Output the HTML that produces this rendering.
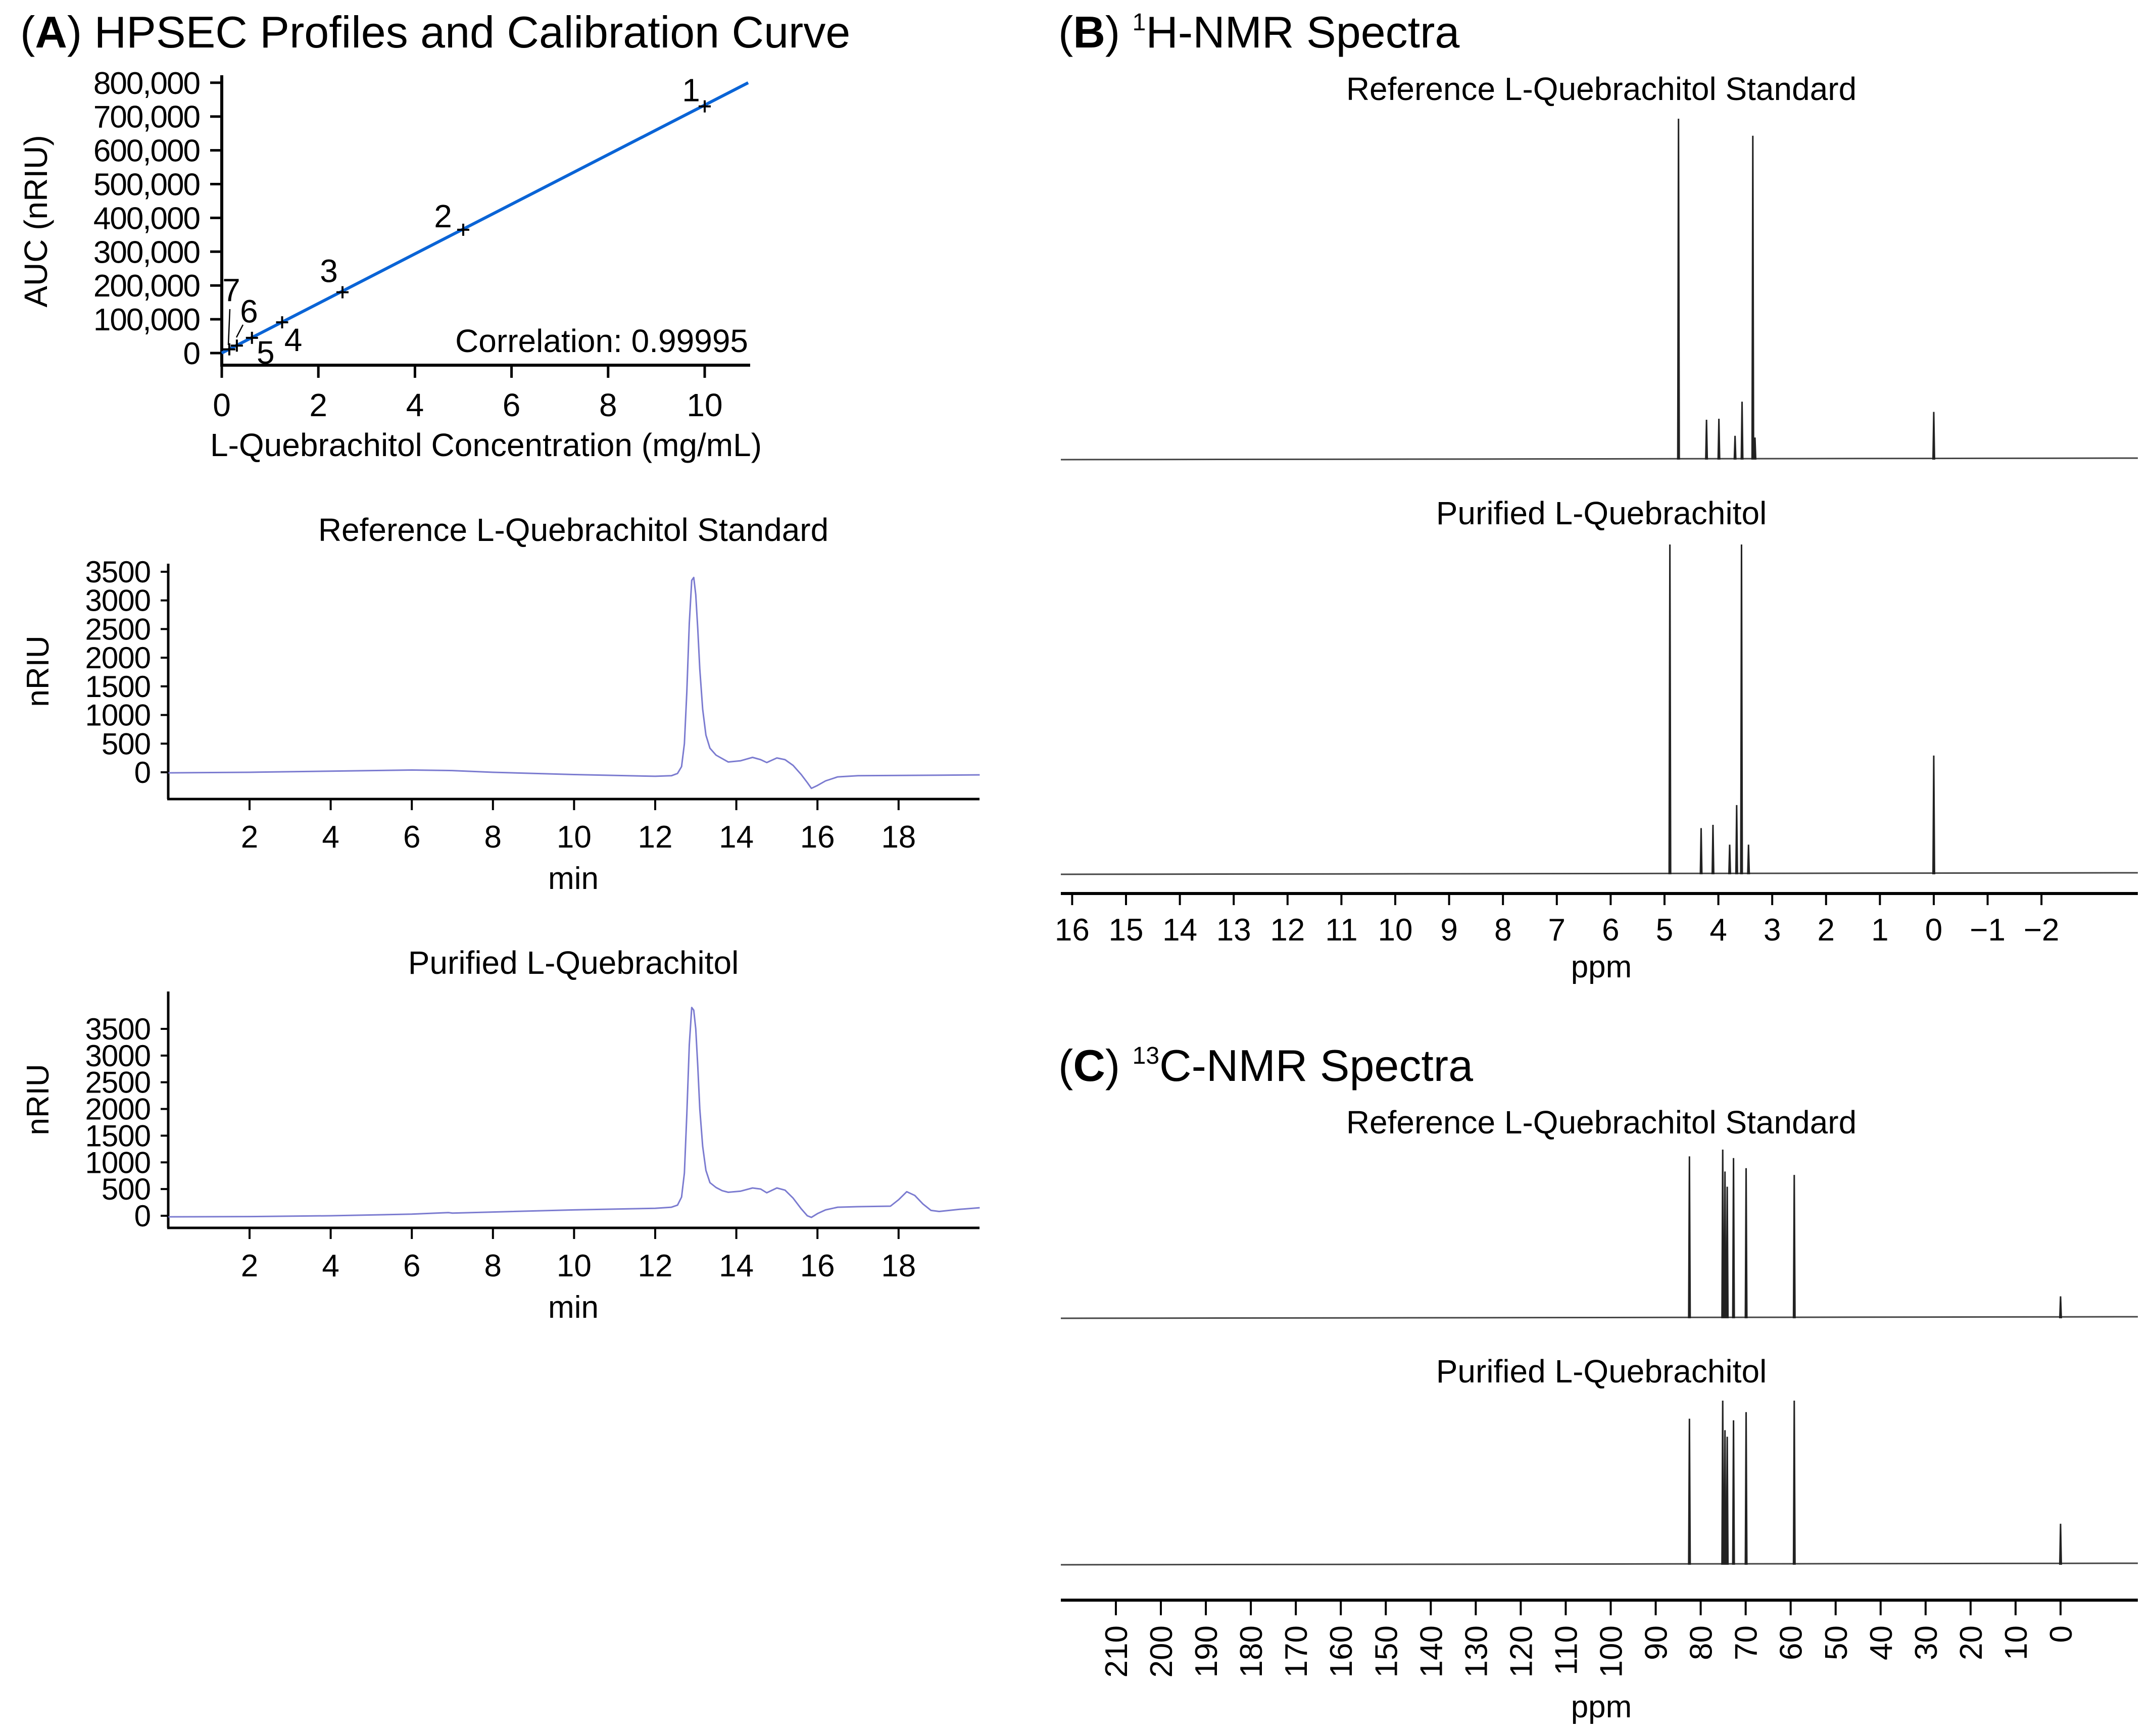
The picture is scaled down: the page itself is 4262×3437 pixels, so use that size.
<!DOCTYPE html>
<html><head><meta charset="utf-8"><style>
html,body{margin:0;padding:0;background:#fff;}
svg{display:block;font-family:"Liberation Sans",sans-serif;}
</style></head><body>
<svg id="fig" width="4262" height="3437" viewBox="0 0 4262 3437" xmlns="http://www.w3.org/2000/svg">
<rect width="4262" height="3437" fill="#fff"/>
<text x="40" y="94" font-size="88">(<tspan font-weight="bold">A</tspan>) HPSEC Profiles and Calibration Curve</text>
<text x="2095" y="94" font-size="88">(<tspan font-weight="bold">B</tspan>) <tspan font-size="48" dy="-34">1</tspan><tspan dy="34">H-NMR Spectra</tspan></text>
<text x="2095" y="2140" font-size="88">(<tspan font-weight="bold">C</tspan>) <tspan font-size="48" dy="-34">13</tspan><tspan dy="34">C-NMR Spectra</tspan></text>
<g id="cal"></g>
<g id="chromRef"></g>
<g id="chromPur"></g>
<g id="hnmr"></g>
<g id="cnmr"></g>
</svg>
<script>
// ---- Calibration data ----
const calConc = [10, 5, 2.5, 1.25, 0.625, 0.3125, 0.156];
const calAUC = [730000, 365000, 180000, 91000, 45000, 22000, 11000];
const calLabels = ["1","2","3","4","5","6","7"];
const calYTicks = [0,100000,200000,300000,400000,500000,600000,700000,800000];
const calXTicks = [0,2,4,6,8,10];
const calFit = [0, 10.9];
const calFitY = [0, 800000];
// ---- Chromatogram data ----
const chromXTicks = [2,4,6,8,10,12,14,16,18];
const refYTicks = [0,500,1000,1500,2000,2500,3000,3500];
const purYTicks = [0,500,1000,1500,2000,2500,3000,3500];
const refT = [0,2,4,6,7,8,10,12,12.4,12.55,12.65,12.72,12.78,12.84,12.9,12.95,13.0,13.05,13.1,13.17,13.25,13.35,13.5,13.65,13.8,14.1,14.4,14.6,14.75,15.0,15.2,15.4,15.6,15.75,15.85,16.0,16.2,16.5,17,18,19,20];
const refV = [-10,0,20,40,30,0,-40,-70,-60,-20,100,500,1400,2600,3350,3400,3100,2500,1800,1100,650,420,300,240,180,200,260,220,170,250,220,120,-40,-180,-280,-230,-150,-80,-60,-55,-50,-45];
const purT = [0,2,4,6,6.9,7,8,10,12,12.4,12.55,12.65,12.72,12.78,12.84,12.9,12.95,13.0,13.05,13.1,13.17,13.25,13.35,13.5,13.65,13.8,14.1,14.4,14.6,14.75,15.0,15.2,15.4,15.6,15.75,15.85,16.0,16.2,16.5,17,17.8,18.0,18.2,18.4,18.6,18.8,19,19.5,20];
const purV = [-20,-15,0,30,60,50,70,110,140,160,200,350,800,1900,3200,3900,3850,3500,2800,2000,1300,850,620,530,470,440,460,520,500,430,520,480,330,130,0,-30,40,110,160,170,180,300,450,380,220,100,80,120,150];
// ---- NMR data ----
const hTicks = [16,15,14,13,12,11,10,9,8,7,6,5,4,3,2,1,0,-1,-2];
const hRefPpm = [4.74,4.22,3.99,3.69,3.56,3.36,3.32,0];
const hRefH = [1.0,0.117,0.12,0.07,0.17,0.95,0.065,0.14];
const hPurPpm = [4.9,4.32,4.1,3.79,3.66,3.57,3.44,0];
const hPurH = [1.0,0.14,0.15,0.09,0.21,1.0,0.09,0.36];
const cTicks = [210,200,190,180,170,160,150,140,130,120,110,100,90,80,70,60,50,40,30,20,10,0];
const cRefPpm = [82.5,75.1,74.6,74.1,72.7,69.9,59.2,0];
const cRefH = [0.96,1.0,0.87,0.78,0.95,0.89,0.85,0.13];
const cPurPpm = [82.5,75.1,74.6,74.1,72.7,69.9,59.2,0];
const cPurH = [0.89,1.0,0.82,0.78,0.88,0.93,1.0,0.25];

const NS="http://www.w3.org/2000/svg";
function mk(parent,tag,attrs,txt){const e=document.createElementNS(NS,tag);for(const k in attrs)e.setAttribute(k,attrs[k]);if(txt!==undefined)e.textContent=txt;parent.appendChild(e);return e;}

// ---- Calibration ----
(function(){
 const g=document.getElementById('cal');
 const x=v=>439+v*95.6, y=v=>699-v/100000*66.9;
 let e=mk(g,'line',{x1:439,y1:149,x2:439,y2:723,stroke:'#000','stroke-width':6});
 
 e=mk(g,'line',{x1:436,y1:723,x2:1485,y2:723,stroke:'#000','stroke-width':6});
 
 calYTicks.forEach(v=>{
  let t=mk(g,'line',{x1:416,y1:y(v),x2:439,y2:y(v),stroke:'#000','stroke-width':5});
  
  let l=mk(g,'text',{x:395,y:y(v)+22,'font-size':62,'text-anchor':'end','letter-spacing':-2},v.toLocaleString('en-US'));
  
 });
 calXTicks.forEach(v=>{
  let t=mk(g,'line',{x1:x(v),y1:723,x2:x(v),y2:748,stroke:'#000','stroke-width':5});
  
  let l=mk(g,'text',{x:x(v),y:824,'font-size':64,'text-anchor':'middle'},String(v));
  
 });
 let f=mk(g,'line',{x1:x(calFit[0]),y1:y(calFitY[0]),x2:x(calFit[1]),y2:y(calFitY[1]),stroke:'#0a64d6','stroke-width':6});
 
 const off=[[-27,-10],[-40,-5],[-27,-20],[22,57],[27,51],[24,-46],[4,-95]];
 calConc.forEach((c,i)=>{
  const px=x(c),py=y(calAUC[i]);
  let p=mk(g,'path',{d:`M${px-12},${py}H${px+12}M${px},${py-12}V${py+12}`,stroke:'#000','stroke-width':4});
  
  let l=mk(g,'text',{x:px+off[i][0],y:py+off[i][1],'font-size':64,'text-anchor':'middle'},calLabels[i]);
  
 });
 let ld=mk(g,'path',{d:'M455,612L452,683M481,643L468,668',stroke:'#000','stroke-width':2.5,fill:'none'});
 
 let c=mk(g,'text',{x:1481,y:697,'font-size':64,'text-anchor':'end'},'Correlation: 0.99995');
 
 let yt=mk(g,'text',{x:0,y:0,'font-size':64,'text-anchor':'middle',transform:'translate(93,438) rotate(-90)'},'AUC (nRIU)');
 
 let xt=mk(g,'text',{x:962,y:903,'font-size':64,'text-anchor':'middle'},'L-Quebrachitol Concentration (mg/mL)');
 
})();

// ---- Chromatograms ----
function chrom(id,T,V,yt,top,axisY,y0,y3500,title,titleY){
 const g=document.getElementById(id);
 const x=v=>333.4+v*80.3, y=v=>y0-(v/3500)*(y0-y3500);
 let t=mk(g,'text',{x:1135,y:titleY+23,'font-size':64,'text-anchor':'middle'},title);
 
 let a=mk(g,'line',{x1:333,y1:top,x2:333,y2:axisY,stroke:'#000','stroke-width':5});
 
 a=mk(g,'line',{x1:331,y1:axisY,x2:1939,y2:axisY,stroke:'#000','stroke-width':5});
 
 yt.forEach(v=>{
  let k=mk(g,'line',{x1:318,y1:y(v),x2:333,y2:y(v),stroke:'#000','stroke-width':4});
  
  let l=mk(g,'text',{x:298,y:y(v)+21,'font-size':60,'text-anchor':'end','letter-spacing':-1},String(v));
  
 });
 chromXTicks.forEach(v=>{
  let k=mk(g,'line',{x1:x(v),y1:axisY,x2:x(v),y2:axisY+22,stroke:'#000','stroke-width':4});
  
  let l=mk(g,'text',{x:x(v),y:axisY+96,'font-size':62,'text-anchor':'middle'},String(v));
  
 });
 let d=T.map((t,i)=>(i?'L':'M')+x(t).toFixed(1)+','+y(V[i]).toFixed(1)).join('');
 let p=mk(g,'path',{d:d,fill:'none',stroke:'#7b7bd0','stroke-width':3,'stroke-linejoin':'round'});
 
 let xl=mk(g,'text',{x:1135,y:axisY+178,'font-size':62,'text-anchor':'middle'},'min');
 
 let yl=mk(g,'text',{x:0,y:0,'font-size':62,'text-anchor':'middle',transform:`translate(96,${(top+axisY)/2-20}) rotate(-90)`},'nRIU');
 
}
chrom('chromRef',refT,refV,refYTicks,1116,1582,1529,1132,'Reference L-Quebrachitol Standard',1048);
chrom('chromPur',purT,purV,purYTicks,1963,2431,2407,2037,'Purified L-Quebrachitol',1905);

// ---- NMR ----
function spec(g,xf,ppm,h,base,top,title,titleY){
 let t=mk(g,'text',{x:3170,y:titleY+23,'font-size':64,'text-anchor':'middle'},title);
 
 let b=mk(g,'line',{x1:2100,y1:base,x2:4232,y2:base-3,stroke:'#444','stroke-width':3});
 
 ppm.forEach((p,i)=>{
  const px=xf(p),py=base-h[i]*(base-top);
  let l=mk(g,'path',{d:`M${px-1.5},${base}L${px},${py}L${px+1.5},${base}`,fill:'none',stroke:'#222','stroke-width':3});
  
 });
}
(function(){
 const g=document.getElementById('hnmr');
 const x=v=>3828-v*106.6;
 spec(g,x,hRefPpm,hRefH,910,235,'Reference L-Quebrachitol Standard',175);
 spec(g,x,hPurPpm,hPurH,1731,1078,'Purified L-Quebrachitol',1015);
 let a=mk(g,'line',{x1:2100,y1:1769,x2:4232,y2:1769,stroke:'#000','stroke-width':6});
 
 hTicks.forEach(v=>{
  let k=mk(g,'line',{x1:x(v),y1:1769,x2:x(v),y2:1792,stroke:'#000','stroke-width':4});
  
  let l=mk(g,'text',{x:x(v),y:1862,'font-size':62,'text-anchor':'middle'},v<0?'\u2212'+(-v):String(v));
  
 });
 let xl=mk(g,'text',{x:3170,y:1935,'font-size':62,'text-anchor':'middle'},'ppm');
 
})();
(function(){
 const g=document.getElementById('cnmr');
 const x=v=>4079-v*8.905;
 spec(g,x,cRefPpm,cRefH,2610,2276,'Reference L-Quebrachitol Standard',2221);
 spec(g,x,cPurPpm,cPurH,3098,2773,'Purified L-Quebrachitol',2714);
 let a=mk(g,'line',{x1:2100,y1:3168,x2:4232,y2:3168,stroke:'#000','stroke-width':6});
 
 cTicks.forEach(v=>{
  let k=mk(g,'line',{x1:x(v),y1:3168,x2:x(v),y2:3198,stroke:'#000','stroke-width':4});
  
  let l=mk(g,'text',{x:0,y:0,'font-size':62,'text-anchor':'end',transform:`translate(${x(v)+22},3218) rotate(-90)`},String(v));
  
 });
 let xl=mk(g,'text',{x:3170,y:3400,'font-size':62,'text-anchor':'middle'},'ppm');
 
})();
</script>
</body></html>
